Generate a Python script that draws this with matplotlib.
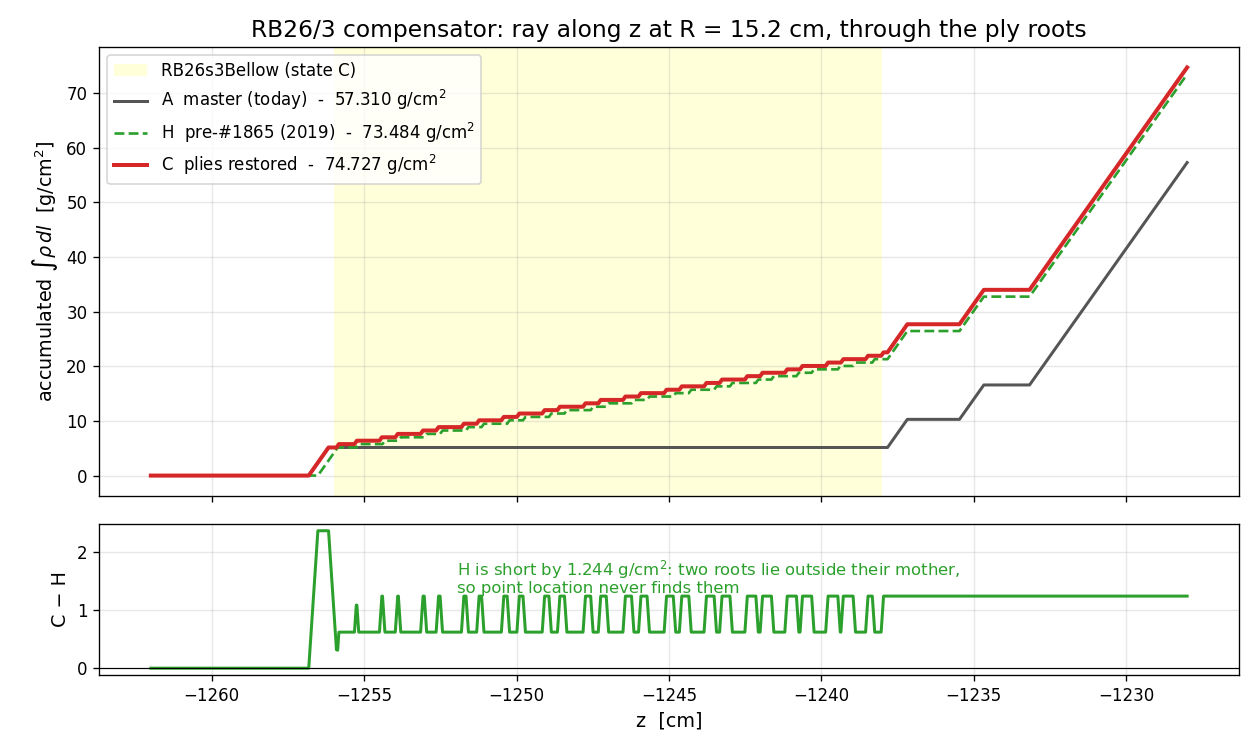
import numpy as np
import matplotlib.pyplot as plt

# ray limits and bellow (state C) extent, cm
z_first, z_last = -1262.0, -1228.0
bellow_z0, bellow_z1 = -1256.0, -1238.0

# solid steel crossings (ramp start, ramp end, rise in g/cm2)
shell_z0 = [-1256.82, -1237.83, -1235.47, -1233.17]
shell_z1 = [-1256.17, -1237.18, -1234.67, -1228.00]
shell_rise = [5.14, 5.15, 6.30, 40.72]
# H sees the first wall a bit later
h_shell_z0 = [-1256.52, -1237.83, -1235.47, -1233.17]
h_shell_z1 = [-1255.87, -1237.18, -1234.67, -1228.00]

# ply roots crossed by the ray (start of each thin step)
c_ply_z = [-1255.91, -1255.32, -1254.50, -1253.98, -1253.15, -1252.64,
           -1251.81, -1251.31, -1250.50, -1249.99, -1249.16, -1248.66,
           -1247.82, -1247.32, -1246.51, -1246.00, -1245.16, -1244.66,
           -1243.85, -1243.34, -1242.51, -1242.01, -1241.20, -1240.70,
           -1239.86, -1239.36, -1238.55, -1238.04]
h_ply_z = [-1255.26, -1254.40, -1253.88, -1253.03, -1252.51,
           -1251.66, -1251.15, -1250.31, -1249.79, -1248.94, -1248.43,
           -1247.57, -1247.06, -1246.23, -1245.72, -1244.86, -1244.35,
           -1243.52, -1243.00, -1242.15, -1241.64, -1240.82, -1240.32,
           -1239.46, -1238.96, -1238.33]
ply_rise = 0.622
ply_width = 0.08

totals = {"A": 57.310, "H": 73.484, "C": 74.727}


def accumulate(z0, z1, rise):
    # piecewise linear running integral from a list of ramps
    order = np.argsort(z0)
    zs, vs = [z_first], [0.0]
    v = 0.0
    for k in order:
        zs.append(z0[k]); vs.append(v)
        v += rise[k]
        zs.append(z1[k]); vs.append(v)
    if zs[-1] < z_last:
        zs.append(z_last); vs.append(v)
    return np.array(zs), np.array(vs)


a_z, a_v = accumulate(shell_z0, shell_z1, shell_rise)
c_z, c_v = accumulate(shell_z0 + c_ply_z,
                      shell_z1 + [z + ply_width for z in c_ply_z],
                      shell_rise + [ply_rise] * len(c_ply_z))
h_z, h_v = accumulate(h_shell_z0 + h_ply_z,
                      h_shell_z1 + [z + ply_width for z in h_ply_z],
                      shell_rise + [ply_rise] * len(h_ply_z))

d_z = np.unique(np.concatenate([c_z, h_z]))
d_v = np.interp(d_z, c_z, c_v) - np.interp(d_z, h_z, h_v)

fig, (ax, ax2) = plt.subplots(2, 1, figsize=(10.5, 6.3), dpi=120, sharex=True,
                              gridspec_kw={"height_ratios": [2.97, 1]})
fig.subplots_adjust(left=0.0786, right=0.9833, top=0.9378, bottom=0.1071, hspace=0.093)

ax.axvspan(bellow_z0, bellow_z1, color="yellow", alpha=0.15, lw=0,
           label="RB26s3Bellow (state C)")
ax.plot(a_z, a_v, color="#555555", lw=1.8,
        label=f"A  master (today)  -  {totals['A']:.3f} g/cm$^2$")
ax.plot(h_z, h_v, color="tab:green", lw=1.6, ls="--",
        label=f"H  pre-#1865 (2019)  -  {totals['H']:.3f} g/cm$^2$")
ax.plot(c_z, c_v, color="tab:red", lw=2.4,
        label=f"C  plies restored  -  {totals['C']:.3f} g/cm$^2$")
ax.set_ylabel(r"accumulated $\int\rho\,dl$  [g/cm$^2$]", fontsize=11.5)
ax.set_title("RB26/3 compensator: ray along z at R = 15.2 cm, through the ply roots",
             fontsize=14)
ax.grid(alpha=0.3)
ax.legend(loc="upper left", fontsize=10)

ax2.plot(d_z, d_v, color="tab:green", lw=1.8)
ax2.axhline(0, color="black", lw=0.7)
ax2.set_ylabel("C \u2212 H", fontsize=11.5)
ax2.set_xlabel("z  [cm]", fontsize=11.5)
ax2.grid(alpha=0.3)
ax2.text(-1251.95, 1.58,
         "H is short by 1.244 g/cm$^2$: two roots lie outside their mother,\n"
         "so point location never finds them",
         color="tab:green", fontsize=9.9, va="center", ha="left", linespacing=1.0)

fig.savefig("out.png")
